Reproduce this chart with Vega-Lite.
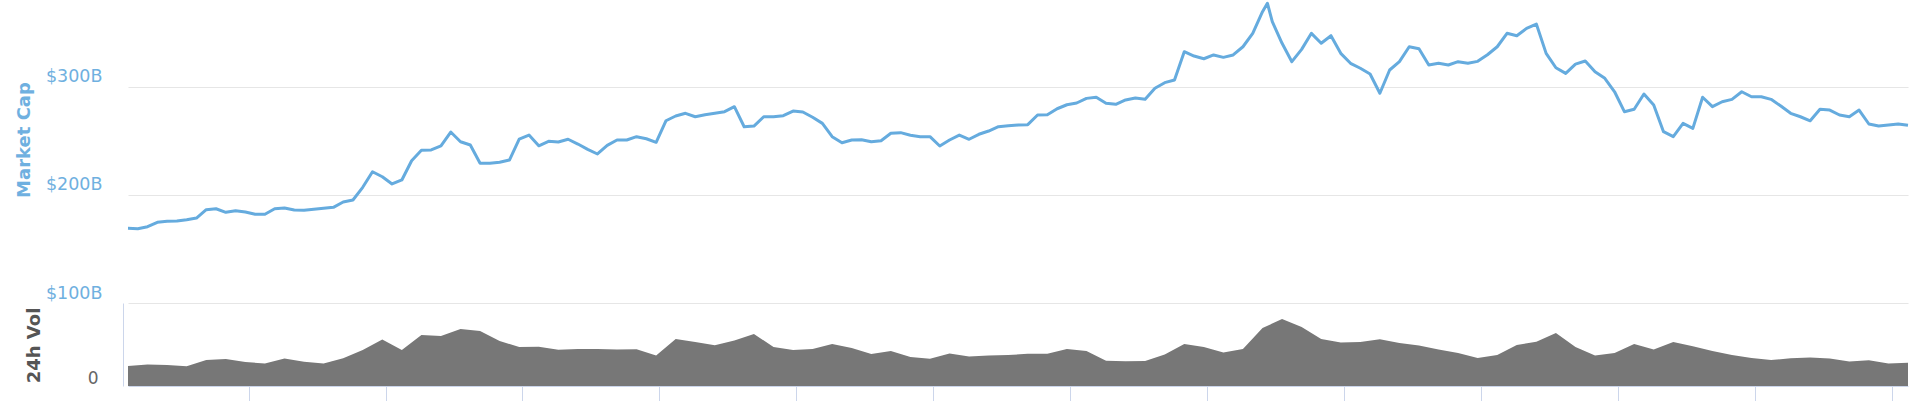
{
  "$schema": "https://vega.github.io/schema/vega-lite/v6.json",
  "width": 1780,
  "height": 386,
  "autosize": "none",
  "padding": {"left": 128, "top": 0, "right": 12, "bottom": 15},
  "background": "white",
  "config": {"view": {"stroke": null}, "font": "DejaVu Sans"},
  "datasets": {
    "mcap": [
      {"t": "2019-04-29T20:00", "mcap": 169.0}, {"t": "2019-04-30T08:00", "mcap": 168.7}, {"t": "2019-04-30T20:00", "mcap": 170.5},
      {"t": "2019-05-01T08:00", "mcap": 174.6}, {"t": "2019-05-01T20:00", "mcap": 175.5}, {"t": "2019-05-02T08:00", "mcap": 175.8},
      {"t": "2019-05-02T20:00", "mcap": 177.0}, {"t": "2019-05-03T08:00", "mcap": 178.5}, {"t": "2019-05-03T20:00", "mcap": 186.2},
      {"t": "2019-05-04T08:00", "mcap": 187.1}, {"t": "2019-05-04T20:00", "mcap": 183.8}, {"t": "2019-05-05T08:00", "mcap": 185.3},
      {"t": "2019-05-05T20:00", "mcap": 184.1}, {"t": "2019-05-06T08:00", "mcap": 182.0}, {"t": "2019-05-06T20:00", "mcap": 182.0},
      {"t": "2019-05-07T08:00", "mcap": 187.1}, {"t": "2019-05-07T20:00", "mcap": 187.8}, {"t": "2019-05-08T08:00", "mcap": 185.9},
      {"t": "2019-05-08T20:00", "mcap": 185.7}, {"t": "2019-05-09T08:00", "mcap": 186.6}, {"t": "2019-05-09T20:00", "mcap": 187.5},
      {"t": "2019-05-10T08:00", "mcap": 188.4}, {"t": "2019-05-10T20:00", "mcap": 193.3}, {"t": "2019-05-11T08:00", "mcap": 195.2},
      {"t": "2019-05-11T20:00", "mcap": 206.9}, {"t": "2019-05-12T08:00", "mcap": 221.3}, {"t": "2019-05-12T20:00", "mcap": 216.7},
      {"t": "2019-05-13T08:00", "mcap": 210.0}, {"t": "2019-05-13T20:00", "mcap": 213.7}, {"t": "2019-05-14T08:00", "mcap": 231.5},
      {"t": "2019-05-14T20:00", "mcap": 241.1}, {"t": "2019-05-15T08:00", "mcap": 241.4}, {"t": "2019-05-15T20:00", "mcap": 245.1},
      {"t": "2019-05-16T08:00", "mcap": 258.0}, {"t": "2019-05-16T20:00", "mcap": 249.0}, {"t": "2019-05-17T08:00", "mcap": 246.0},
      {"t": "2019-05-17T20:00", "mcap": 229.1}, {"t": "2019-05-18T08:00", "mcap": 229.1}, {"t": "2019-05-18T20:00", "mcap": 230.0},
      {"t": "2019-05-19T08:00", "mcap": 232.1}, {"t": "2019-05-19T20:00", "mcap": 251.5}, {"t": "2019-05-20T08:00", "mcap": 255.2},
      {"t": "2019-05-20T20:00", "mcap": 245.3}, {"t": "2019-05-21T08:00", "mcap": 249.4}, {"t": "2019-05-21T20:00", "mcap": 248.8},
      {"t": "2019-05-22T08:00", "mcap": 251.3}, {"t": "2019-05-22T20:00", "mcap": 246.9}, {"t": "2019-05-23T08:00", "mcap": 242.0},
      {"t": "2019-05-23T20:00", "mcap": 237.7}, {"t": "2019-05-24T08:00", "mcap": 245.7}, {"t": "2019-05-24T20:00", "mcap": 250.6},
      {"t": "2019-05-25T08:00", "mcap": 250.6}, {"t": "2019-05-25T20:00", "mcap": 253.7}, {"t": "2019-05-26T08:00", "mcap": 251.8},
      {"t": "2019-05-26T20:00", "mcap": 248.5}, {"t": "2019-05-27T08:00", "mcap": 268.4}, {"t": "2019-05-27T20:00", "mcap": 272.8},
      {"t": "2019-05-28T08:00", "mcap": 275.3}, {"t": "2019-05-28T20:00", "mcap": 272.1}, {"t": "2019-05-29T08:00", "mcap": 274.0},
      {"t": "2019-05-29T20:00", "mcap": 275.3}, {"t": "2019-05-30T08:00", "mcap": 276.8}, {"t": "2019-05-30T20:00", "mcap": 281.4},
      {"t": "2019-05-31T08:00", "mcap": 262.9}, {"t": "2019-05-31T20:00", "mcap": 263.5}, {"t": "2019-06-01T08:00", "mcap": 272.1},
      {"t": "2019-06-01T20:00", "mcap": 272.1}, {"t": "2019-06-02T08:00", "mcap": 273.1}, {"t": "2019-06-02T20:00", "mcap": 277.4},
      {"t": "2019-06-03T08:00", "mcap": 276.5}, {"t": "2019-06-03T20:00", "mcap": 271.6}, {"t": "2019-06-04T08:00", "mcap": 266.0},
      {"t": "2019-06-04T20:00", "mcap": 253.7}, {"t": "2019-06-05T08:00", "mcap": 248.1}, {"t": "2019-06-05T20:00", "mcap": 250.6},
      {"t": "2019-06-06T08:00", "mcap": 250.9}, {"t": "2019-06-06T20:00", "mcap": 249.0}, {"t": "2019-06-07T08:00", "mcap": 250.0},
      {"t": "2019-06-07T20:00", "mcap": 256.8}, {"t": "2019-06-08T08:00", "mcap": 257.4}, {"t": "2019-06-08T20:00", "mcap": 255.0},
      {"t": "2019-06-09T08:00", "mcap": 253.7}, {"t": "2019-06-09T20:00", "mcap": 253.7}, {"t": "2019-06-10T08:00", "mcap": 245.1},
      {"t": "2019-06-10T20:00", "mcap": 250.6}, {"t": "2019-06-11T08:00", "mcap": 255.2}, {"t": "2019-06-11T20:00", "mcap": 251.3},
      {"t": "2019-06-12T08:00", "mcap": 255.9}, {"t": "2019-06-12T20:00", "mcap": 258.9}, {"t": "2019-06-13T08:00", "mcap": 262.9},
      {"t": "2019-06-13T20:00", "mcap": 263.8}, {"t": "2019-06-14T08:00", "mcap": 264.5}, {"t": "2019-06-14T20:00", "mcap": 264.8},
      {"t": "2019-06-15T08:00", "mcap": 273.7}, {"t": "2019-06-15T20:00", "mcap": 274.0}, {"t": "2019-06-16T08:00", "mcap": 279.5},
      {"t": "2019-06-16T20:00", "mcap": 283.2}, {"t": "2019-06-17T08:00", "mcap": 284.8}, {"t": "2019-06-17T20:00", "mcap": 289.1},
      {"t": "2019-06-18T08:00", "mcap": 290.1}, {"t": "2019-06-18T20:00", "mcap": 284.5}, {"t": "2019-06-19T08:00", "mcap": 283.6},
      {"t": "2019-06-19T20:00", "mcap": 287.6}, {"t": "2019-06-20T08:00", "mcap": 289.4}, {"t": "2019-06-20T20:00", "mcap": 288.2},
      {"t": "2019-06-21T08:00", "mcap": 298.4}, {"t": "2019-06-21T20:00", "mcap": 303.6}, {"t": "2019-06-22T08:00", "mcap": 306.1},
      {"t": "2019-06-22T20:00", "mcap": 332.2}, {"t": "2019-06-23T08:00", "mcap": 328.2}, {"t": "2019-06-23T20:00", "mcap": 325.7},
      {"t": "2019-06-24T08:00", "mcap": 329.2}, {"t": "2019-06-24T20:00", "mcap": 327.0}, {"t": "2019-06-25T08:00", "mcap": 329.2},
      {"t": "2019-06-25T20:00", "mcap": 336.8}, {"t": "2019-06-26T08:00", "mcap": 349.2}, {"t": "2019-06-26T20:00", "mcap": 369.2},
      {"t": "2019-06-27T02:00", "mcap": 377.0}, {"t": "2019-06-27T08:00", "mcap": 360.0}, {"t": "2019-06-27T20:00", "mcap": 340.0},
      {"t": "2019-06-28T08:00", "mcap": 323.0}, {"t": "2019-06-28T20:00", "mcap": 334.4}, {"t": "2019-06-29T08:00", "mcap": 349.2},
      {"t": "2019-06-29T20:00", "mcap": 340.0}, {"t": "2019-06-30T08:00", "mcap": 347.0}, {"t": "2019-06-30T20:00", "mcap": 330.7},
      {"t": "2019-07-01T08:00", "mcap": 321.5}, {"t": "2019-07-01T20:00", "mcap": 316.9}, {"t": "2019-07-02T08:00", "mcap": 311.6},
      {"t": "2019-07-02T20:00", "mcap": 293.8}, {"t": "2019-07-03T08:00", "mcap": 315.3}, {"t": "2019-07-03T20:00", "mcap": 323.0},
      {"t": "2019-07-04T08:00", "mcap": 336.8}, {"t": "2019-07-04T20:00", "mcap": 335.0}, {"t": "2019-07-05T08:00", "mcap": 319.9},
      {"t": "2019-07-05T20:00", "mcap": 321.5}, {"t": "2019-07-06T08:00", "mcap": 319.9}, {"t": "2019-07-06T20:00", "mcap": 323.0},
      {"t": "2019-07-07T08:00", "mcap": 321.5}, {"t": "2019-07-07T20:00", "mcap": 323.3}, {"t": "2019-07-08T08:00", "mcap": 329.4},
      {"t": "2019-07-08T20:00", "mcap": 336.8}, {"t": "2019-07-09T08:00", "mcap": 349.2}, {"t": "2019-07-09T20:00", "mcap": 347.0},
      {"t": "2019-07-10T08:00", "mcap": 353.8}, {"t": "2019-07-10T20:00", "mcap": 357.8}, {"t": "2019-07-11T08:00", "mcap": 330.7},
      {"t": "2019-07-11T20:00", "mcap": 317.4}, {"t": "2019-07-12T08:00", "mcap": 312.2}, {"t": "2019-07-12T20:00", "mcap": 320.8},
      {"t": "2019-07-13T08:00", "mcap": 323.6}, {"t": "2019-07-13T20:00", "mcap": 313.7}, {"t": "2019-07-14T08:00", "mcap": 307.6},
      {"t": "2019-07-14T20:00", "mcap": 295.2}, {"t": "2019-07-15T08:00", "mcap": 276.8}, {"t": "2019-07-15T20:00", "mcap": 279.0},
      {"t": "2019-07-16T08:00", "mcap": 293.1}, {"t": "2019-07-16T20:00", "mcap": 283.0}, {"t": "2019-07-17T08:00", "mcap": 258.3},
      {"t": "2019-07-17T20:00", "mcap": 253.7}, {"t": "2019-07-18T08:00", "mcap": 266.0}, {"t": "2019-07-18T20:00", "mcap": 261.4},
      {"t": "2019-07-19T08:00", "mcap": 290.1}, {"t": "2019-07-19T20:00", "mcap": 281.4}, {"t": "2019-07-20T08:00", "mcap": 286.0},
      {"t": "2019-07-20T20:00", "mcap": 288.2}, {"t": "2019-07-21T08:00", "mcap": 295.2}, {"t": "2019-07-21T20:00", "mcap": 290.6},
      {"t": "2019-07-22T08:00", "mcap": 290.6}, {"t": "2019-07-22T20:00", "mcap": 288.2}, {"t": "2019-07-23T08:00", "mcap": 282.0},
      {"t": "2019-07-23T20:00", "mcap": 275.3}, {"t": "2019-07-24T08:00", "mcap": 272.1}, {"t": "2019-07-24T20:00", "mcap": 268.4},
      {"t": "2019-07-25T08:00", "mcap": 279.0}, {"t": "2019-07-25T20:00", "mcap": 278.3}, {"t": "2019-07-26T08:00", "mcap": 273.7},
      {"t": "2019-07-26T20:00", "mcap": 272.1}, {"t": "2019-07-27T08:00", "mcap": 278.3}, {"t": "2019-07-27T20:00", "mcap": 265.4},
      {"t": "2019-07-28T08:00", "mcap": 263.5}, {"t": "2019-07-28T20:00", "mcap": 264.5}, {"t": "2019-07-29T08:00", "mcap": 265.4},
      {"t": "2019-07-29T20:00", "mcap": 264.2}
    ],
    "vol": [
      {"t": "2019-04-29T20:00", "vol": 40}, {"t": "2019-04-30T20:00", "vol": 43}, {"t": "2019-05-01T20:00", "vol": 42},
      {"t": "2019-05-02T20:00", "vol": 39.6}, {"t": "2019-05-03T20:00", "vol": 52}, {"t": "2019-05-04T20:00", "vol": 54},
      {"t": "2019-05-05T20:00", "vol": 48}, {"t": "2019-05-06T20:00", "vol": 45}, {"t": "2019-05-07T20:00", "vol": 55},
      {"t": "2019-05-08T20:00", "vol": 48.6}, {"t": "2019-05-09T20:00", "vol": 45}, {"t": "2019-05-10T20:00", "vol": 55.4},
      {"t": "2019-05-11T20:00", "vol": 72}, {"t": "2019-05-12T20:00", "vol": 93}, {"t": "2019-05-13T20:00", "vol": 72},
      {"t": "2019-05-14T20:00", "vol": 102}, {"t": "2019-05-15T20:00", "vol": 100}, {"t": "2019-05-16T20:00", "vol": 114},
      {"t": "2019-05-17T20:00", "vol": 110}, {"t": "2019-05-18T20:00", "vol": 90}, {"t": "2019-05-19T20:00", "vol": 78},
      {"t": "2019-05-20T20:00", "vol": 78.6}, {"t": "2019-05-21T20:00", "vol": 72.4}, {"t": "2019-05-22T20:00", "vol": 74},
      {"t": "2019-05-23T20:00", "vol": 74}, {"t": "2019-05-24T20:00", "vol": 73}, {"t": "2019-05-25T20:00", "vol": 73.4},
      {"t": "2019-05-26T20:00", "vol": 61}, {"t": "2019-05-27T20:00", "vol": 94}, {"t": "2019-05-28T20:00", "vol": 88},
      {"t": "2019-05-29T20:00", "vol": 81.4}, {"t": "2019-05-30T20:00", "vol": 91}, {"t": "2019-05-31T20:00", "vol": 104},
      {"t": "2019-06-01T20:00", "vol": 78}, {"t": "2019-06-02T20:00", "vol": 72}, {"t": "2019-06-03T20:00", "vol": 74},
      {"t": "2019-06-04T20:00", "vol": 84}, {"t": "2019-06-05T20:00", "vol": 76}, {"t": "2019-06-06T20:00", "vol": 64},
      {"t": "2019-06-07T20:00", "vol": 70}, {"t": "2019-06-08T20:00", "vol": 58}, {"t": "2019-06-09T20:00", "vol": 54.4},
      {"t": "2019-06-10T20:00", "vol": 65}, {"t": "2019-06-11T20:00", "vol": 59}, {"t": "2019-06-12T20:00", "vol": 61},
      {"t": "2019-06-13T20:00", "vol": 62}, {"t": "2019-06-14T20:00", "vol": 64.4}, {"t": "2019-06-15T20:00", "vol": 64.4},
      {"t": "2019-06-16T20:00", "vol": 74}, {"t": "2019-06-17T20:00", "vol": 70}, {"t": "2019-06-18T20:00", "vol": 50.6},
      {"t": "2019-06-19T20:00", "vol": 49.6}, {"t": "2019-06-20T20:00", "vol": 50}, {"t": "2019-06-21T20:00", "vol": 63},
      {"t": "2019-06-22T20:00", "vol": 84}, {"t": "2019-06-23T20:00", "vol": 78}, {"t": "2019-06-24T20:00", "vol": 67},
      {"t": "2019-06-25T20:00", "vol": 74}, {"t": "2019-06-26T20:00", "vol": 116}, {"t": "2019-06-27T20:00", "vol": 134},
      {"t": "2019-06-28T20:00", "vol": 118}, {"t": "2019-06-29T20:00", "vol": 94}, {"t": "2019-06-30T20:00", "vol": 87},
      {"t": "2019-07-01T20:00", "vol": 88}, {"t": "2019-07-02T20:00", "vol": 93.6}, {"t": "2019-07-03T20:00", "vol": 86},
      {"t": "2019-07-04T20:00", "vol": 81}, {"t": "2019-07-05T20:00", "vol": 73}, {"t": "2019-07-06T20:00", "vol": 66},
      {"t": "2019-07-07T20:00", "vol": 56}, {"t": "2019-07-08T20:00", "vol": 62}, {"t": "2019-07-09T20:00", "vol": 82},
      {"t": "2019-07-10T20:00", "vol": 88.6}, {"t": "2019-07-11T20:00", "vol": 106}, {"t": "2019-07-12T20:00", "vol": 78},
      {"t": "2019-07-13T20:00", "vol": 61}, {"t": "2019-07-14T20:00", "vol": 66}, {"t": "2019-07-15T20:00", "vol": 84},
      {"t": "2019-07-16T20:00", "vol": 73}, {"t": "2019-07-17T20:00", "vol": 88}, {"t": "2019-07-18T20:00", "vol": 79.6},
      {"t": "2019-07-19T20:00", "vol": 70}, {"t": "2019-07-20T20:00", "vol": 62}, {"t": "2019-07-21T20:00", "vol": 56},
      {"t": "2019-07-22T20:00", "vol": 52}, {"t": "2019-07-23T20:00", "vol": 55.4}, {"t": "2019-07-24T20:00", "vol": 57},
      {"t": "2019-07-25T20:00", "vol": 55.2}, {"t": "2019-07-26T20:00", "vol": 49}, {"t": "2019-07-27T20:00", "vol": 51.4},
      {"t": "2019-07-28T20:00", "vol": 45}, {"t": "2019-07-29T20:00", "vol": 46.6}
    ]
  },
  "encoding": {
    "x": {
      "field": "t",
      "type": "temporal",
      "scale": {
        "domain": [
          {"year": 2019, "month": 4, "date": 29, "hours": 20},
          {"year": 2019, "month": 7, "date": 29, "hours": 20}
        ],
        "nice": false
      },
      "axis": {
        "title": null,
        "labels": false,
        "grid": false,
        "ticks": true,
        "tickSize": 15,
        "tickColor": "#ccd6eb",
        "tickWidth": 1,
        "domain": true,
        "domainColor": "#ccd6eb",
        "domainWidth": 1,
        "values": [
          {"year": 2019, "month": 5, "date": 6}, {"year": 2019, "month": 5, "date": 13},
          {"year": 2019, "month": 5, "date": 20}, {"year": 2019, "month": 5, "date": 27},
          {"year": 2019, "month": 6, "date": 3}, {"year": 2019, "month": 6, "date": 10},
          {"year": 2019, "month": 6, "date": 17}, {"year": 2019, "month": 6, "date": 24},
          {"year": 2019, "month": 7, "date": 1}, {"year": 2019, "month": 7, "date": 8},
          {"year": 2019, "month": 7, "date": 15}, {"year": 2019, "month": 7, "date": 22},
          {"year": 2019, "month": 7, "date": 29}
        ]
      }
    }
  },
  "layer": [
    {
      "data": {"name": "vol"},
      "mark": {"type": "area", "color": "#777777", "opacity": 1},
      "encoding": {
        "y": {
          "field": "vol",
          "type": "quantitative",
          "scale": {"domain": [0, 166], "range": [386, 303], "nice": false, "zero": true},
          "axis": {
            "orient": "left",
            "values": [0],
            "title": "24h Vol",
            "titleFont": "DejaVu Sans",
            "titleFontWeight": "bold",
            "titleFontSize": 18,
            "titleColor": "#555555",
            "titleAngle": 270,
            "titleAlign": "center",
            "titleBaseline": "alphabetic",
            "titleX": -84,
            "titleY": 345,
            "labelFont": "DejaVu Sans",
            "labelColor": "#666666",
            "labelFontSize": 17,
            "labelPadding": 25,
            "labelOffset": -3,
            "labelAlign": "right",
            "labelBaseline": "alphabetic",
            "ticks": false,
            "tickSize": 0,
            "grid": false,
            "domain": true,
            "domainColor": "#ccd6eb",
            "domainWidth": 1,
            "offset": 5
          }
        }
      }
    },
    {
      "data": {"name": "mcap"},
      "mark": {"type": "line", "color": "#65abde", "strokeWidth": 3, "strokeJoin": "round"},
      "encoding": {
        "y": {
          "field": "mcap",
          "type": "quantitative",
          "scale": {"domain": [100, 380], "range": [303, 0], "nice": false, "zero": false},
          "axis": {
            "orient": "left",
            "values": [100, 200, 300],
            "labelExpr": "'$' + datum.value + 'B'",
            "grid": true,
            "gridColor": "#e6e6e6",
            "gridWidth": 1.2,
            "domain": false,
            "ticks": false,
            "tickSize": 0,
            "labelFont": "DejaVu Sans",
            "labelPadding": 26,
            "labelAlign": "right",
            "labelBaseline": "alphabetic",
            "labelOffset": -5,
            "labelColor": "#6fb0e0",
            "labelFontSize": 17.5,
            "title": "Market Cap",
            "titleFont": "DejaVu Sans",
            "titleColor": "#6fb0e0",
            "titleFontSize": 18,
            "titleFontWeight": "bold",
            "titleAngle": 270,
            "titleAlign": "center",
            "titleBaseline": "alphabetic",
            "titleX": -99,
            "titleY": 139.5
          }
        }
      }
    }
  ],
  "resolve": {"scale": {"y": "independent"}, "axis": {"y": "independent"}}
}
